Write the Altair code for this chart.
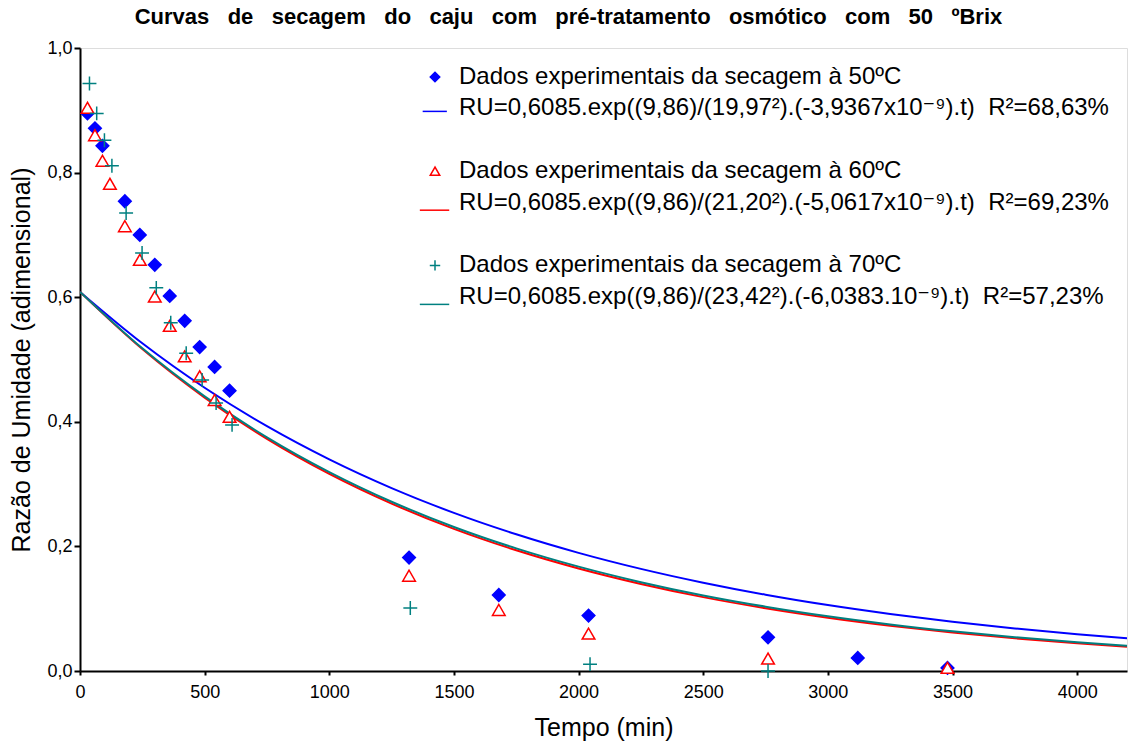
import altair as alt
import pandas as pd

# ---------------- data ----------------
names_pts = [
    "Dados experimentais da secagem à 50ºC",
    "Dados experimentais da secagem à 60ºC",
    "Dados experimentais da secagem à 70ºC",
]
names_fit = [
    "RU=0,6085.exp((9,86)/(19,97²).(-3,9367x10⁻⁹).t)\u00a0\u00a0R²=68,63%",
    "RU=0,6085.exp((9,86)/(21,20²).(-5,0617x10⁻⁹).t)\u00a0\u00a0R²=69,23%",
    "RU=0,6085.exp((9,86)/(23,42²).(-6,0383.10⁻⁹).t)\u00a0\u00a0R²=57,23%",
]
blank1 = " "
blank2 = "  "

t50 = [30, 60, 90, 180, 240, 300, 360, 420, 480, 540, 600, 1320, 1680, 2040, 2760, 3120, 3480]
ru50 = [0.895, 0.871, 0.843, 0.754, 0.700, 0.652, 0.602, 0.562, 0.520, 0.488, 0.450,
        0.182, 0.122, 0.089, 0.054, 0.021, 0.005]

t60 = [30, 60, 90, 120, 180, 240, 300, 360, 420, 480, 540, 600, 1320, 1680, 2040, 2760, 3480]
ru60 = [0.904, 0.860, 0.819, 0.782, 0.714, 0.660, 0.601, 0.554, 0.505, 0.473, 0.435, 0.408,
        0.153, 0.098, 0.060, 0.020, 0.005]

t70 = [38, 67, 98, 128, 185, 249, 306, 364, 426, 490, 546, 610, 1325, 2046, 2760]
ru70 = [0.943, 0.895, 0.852, 0.811, 0.735, 0.671, 0.615, 0.559, 0.510, 0.467, 0.430, 0.395,
        0.101, 0.011, 0.000]

t_fit = [0, 250, 500, 750, 1000, 1250, 1500, 1750, 2000, 2250, 2500, 2750, 3000, 3250,
         3500, 3750, 4000, 4200]
fit50 = [0.6085, 0.526, 0.4546, 0.393, 0.3397, 0.2936, 0.2538, 0.2194, 0.1896, 0.1639,
         0.1417, 0.1224, 0.1058, 0.0915, 0.0791, 0.0684, 0.0591, 0.0526]
fit60 = [0.6085, 0.5167, 0.4388, 0.3726, 0.3164, 0.2687, 0.2281, 0.1937, 0.1645, 0.1397,
         0.1186, 0.1008, 0.0856, 0.0727, 0.0617, 0.0524, 0.0445, 0.0390]
fit70 = [0.6085, 0.5179, 0.4408, 0.3751, 0.3193, 0.2717, 0.2312, 0.1968, 0.1675, 0.1426,
         0.1213, 0.1033, 0.0879, 0.0748, 0.0637, 0.0542, 0.0461, 0.0405]

x_ticks = [0, 500, 1000, 1500, 2000, 2500, 3000, 3500, 4000]
y_ticks = [0.0, 0.2, 0.4, 0.6, 0.8, 1.0]

title_words = ["Curvas", "de", "secagem", "do", "caju", "com", "pré-tratamento",
               "osmótico", "com", "50", "ºBrix"]

# ---------------- tables ----------------
rows = []
for name, ts, vs in zip(names_pts, [t50, t60, t70], [ru50, ru60, ru70]):
    for t, v in zip(ts, vs):
        rows.append({"t": t, "ru": v, "serie": name})
df_pts = pd.DataFrame(rows)

rows = []
for name, vs in zip(names_fit, [fit50, fit60, fit70]):
    for t, v in zip(t_fit, vs):
        rows.append({"t": t, "ru": v, "serie": name})
df_fit = pd.DataFrame(rows)

BLUE = "#0000ff"
RED = "#ff0000"
TEAL = "#008080"

domain = [names_pts[0], names_fit[0], blank1,
          names_pts[1], names_fit[1], blank2,
          names_pts[2], names_fit[2]]
stroke_range = [BLUE, BLUE, "transparent", RED, RED, "transparent", TEAL, TEAL]
fill_range = [BLUE, "transparent", "transparent", "white", "transparent", "transparent",
              "transparent", "transparent"]
shape_range = ["diamond", "M-2.6,0.63H2.5", "M0,0", "triangle-up", "M-3.2,1.6H3.0", "M0,0",
               "M-1.1,0H1.1M0,-1.1V1.1", "M-3.2,1.6H3.0"]

FONT = "Liberation Sans, Arial, DejaVu Sans"

xscale = alt.Scale(domain=[0, 4200], nice=False, zero=False)
yscale = alt.Scale(domain=[0, 1], nice=False)

xaxis = alt.Axis(values=x_ticks, format="d", title="Tempo (min)", grid=False,
                 labelFontSize=18, titleFontSize=25, titleFontWeight="normal",
                 labelFont=FONT, titleFont=FONT, labelColor="black", titleColor="black",
                 tickSize=4, tickWidth=2, tickColor="black", domainColor="black",
                 domainWidth=2, labelPadding=8, titlePadding=14, labelFlush=False)
yaxis = alt.Axis(values=y_ticks, labelExpr="replace(format(datum.value, '.1f'), '.', ',')",
                 title="Razão de Umidade (adimensional)", grid=False,
                 labelFontSize=18, titleFontSize=25, titleFontWeight="normal",
                 labelFont=FONT, titleFont=FONT, labelColor="black", titleColor="black",
                 tickSize=6, tickWidth=2, tickColor="black", domainColor="black",
                 domainWidth=2, labelPadding=2, titlePadding=12, labelFlush=False)

stroke_scale = alt.Scale(domain=domain, range=stroke_range)
fill_scale = alt.Scale(domain=domain, range=fill_range)
shape_scale = alt.Scale(domain=domain, range=shape_range)


def leg():
    return alt.Legend(title=None, orient="none", legendX=343, legendY=17,
                      labelFontSize=24, labelFont=FONT, labelColor="black",
                      symbolSize=90, symbolStrokeWidth=1.5, rowPadding=7.4,
                      labelOffset=12, padding=0, labelLimit=900, symbolOpacity=1)


lines = alt.Chart(df_fit).mark_line(strokeWidth=2, interpolate="monotone", clip=True).encode(
    x=alt.X("t:Q", scale=xscale, axis=xaxis),
    y=alt.Y("ru:Q", scale=yscale, axis=yaxis),
    stroke=alt.Stroke("serie:N", scale=stroke_scale, legend=leg()),
)

points = alt.Chart(df_pts).mark_point(size=160, strokeWidth=1.5, opacity=1).encode(
    x=alt.X("t:Q", scale=xscale),
    y=alt.Y("ru:Q", scale=yscale),
    stroke=alt.Stroke("serie:N", scale=stroke_scale, legend=leg()),
    fill=alt.Fill("serie:N", scale=fill_scale, legend=leg()),
    shape=alt.Shape("serie:N", scale=shape_scale, legend=leg()),
)

title_text = "\u00a0\u00a0\u00a0".join(title_words)

chart = alt.layer(lines, points).properties(
    width=1047,
    height=623,
    title=alt.TitleParams(title_text, fontSize=22, fontWeight="bold", font=FONT,
                          color="black", anchor="middle", offset=10, dx=-35),
    autosize=alt.AutoSizeParams(type="none"),
    padding={"left": 80, "top": 48, "right": 1, "bottom": 74},
).configure_view(
    stroke="black", strokeWidth=2
).configure(background="white")

chart.save("out.html", embed_options={"renderer": "svg", "actions": False})
